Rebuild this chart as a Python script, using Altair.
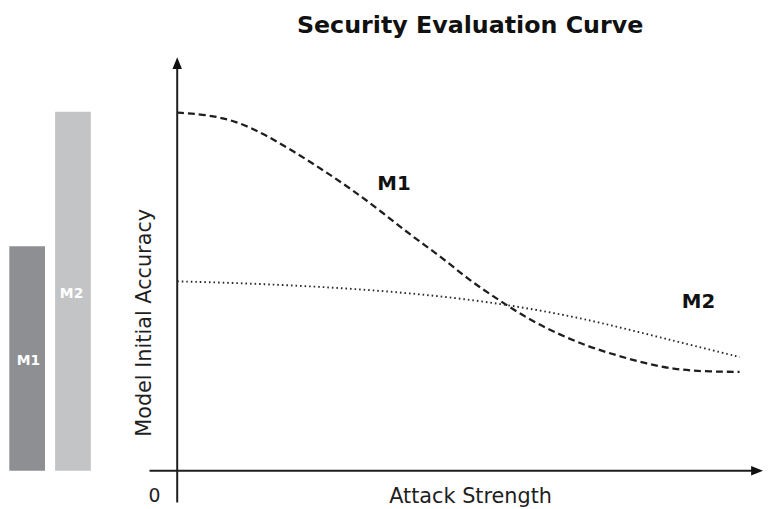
import altair as alt
import pandas as pd

# ---- data ----
attack_m1 = [0, 0.5, 1.0, 1.5, 2.0, 2.5, 3.0, 3.5, 4.0, 4.5, 5.0, 5.5, 6.0, 6.5, 7.0, 7.5, 8.0, 8.5, 9.0, 9.6]
acc_m1 = [86.6, 86.1, 84.6, 81.3, 77.1, 72.6, 67.8, 62.5, 56.8, 51.8, 45.9, 41.2, 36.6, 33.1, 30.1, 27.9, 25.9, 24.5, 24.0, 23.9]

attack_m2 = [0, 1, 2, 3, 4, 5, 6, 7, 8, 9, 9.6]
acc_m2 = [45.8, 45.4, 44.8, 44.0, 42.9, 41.4, 39.3, 36.6, 33.1, 29.6, 27.5]

models = ["M1", "M2"]
initial_acc = [54.3, 86.8]
bar_colors = ["#8e8f93", "#c3c4c6"]

curve_names = ["M1", "M2"]
curve_label_x = [3.7, 8.9]
curve_label_y = [69.4, 40.9]

# ---- tables ----
bars_df = pd.DataFrame({"model": models, "acc": initial_acc})
m1_df = pd.DataFrame({"attack": attack_m1, "acc": acc_m1})
m2_df = pd.DataFrame({"attack": attack_m2, "acc": acc_m2})
lab_df = pd.DataFrame({"name": curve_names, "attack": curve_label_x, "acc": curve_label_y})
one = pd.DataFrame({"k": [0]})

FONT = "DejaVu Sans"
INK = "#1e1e1e"

yscale = alt.Scale(domain=[0, 100], nice=False, zero=True)
xscale = alt.Scale(domain=[0, 10], nice=False)
y_axis = alt.Axis(
    title="Model Initial Accuracy", labels=False, ticks=False, domain=False, grid=False,
    titleFont=FONT, titleFontSize=21, titleFontWeight="normal", titleColor=INK,
    titlePadding=23, titleY=268,
)
x_axis = alt.Axis(
    title="Attack Strength", labels=False, ticks=False, domain=False, grid=False,
    titleFont=FONT, titleFontSize=21, titleFontWeight="normal", titleColor=INK,
    titlePadding=15,
)

band = alt.Scale(domain=models, range=[-172, -85], paddingInner=0.22, paddingOuter=0.05)

bars = alt.Chart(bars_df).mark_bar().encode(
    x=alt.X("model:N", scale=band, axis=None),
    y=alt.Y("acc:Q", scale=yscale, axis=y_axis),
    color=alt.Color("model:N", scale=alt.Scale(domain=models, range=bar_colors), legend=None),
)

bar_text = alt.Chart(bars_df).transform_calculate(half="datum.acc / 2").mark_text(
    font=FONT, fontSize=14, fontWeight="bold", color="white", dy=3
).encode(
    x=alt.X("model:N", scale=band, axis=None),
    y=alt.Y("half:Q", scale=yscale, axis=y_axis),
    text="model:N",
)

line_m1 = alt.Chart(m1_df).mark_line(
    color=INK, strokeWidth=2.3, strokeDash=[7, 4], interpolate="basis"
).encode(
    x=alt.X("attack:Q", scale=xscale, axis=x_axis),
    y=alt.Y("acc:Q", scale=yscale, axis=y_axis),
)

line_m2 = alt.Chart(m2_df).mark_line(
    color="#2a2a2a", strokeWidth=1.9, strokeDash=[1.6, 3], interpolate="basis"
).encode(
    x=alt.X("attack:Q", scale=xscale, axis=None),
    y=alt.Y("acc:Q", scale=yscale, axis=y_axis),
)

curve_text = alt.Chart(lab_df).mark_text(
    font=FONT, fontSize=20, fontWeight="bold", color="#111111"
).encode(
    x=alt.X("attack:Q", scale=xscale, axis=None),
    y=alt.Y("acc:Q", scale=yscale, axis=y_axis),
    text="name:N",
)

y_rule = alt.Chart(one).mark_rule(color=INK, strokeWidth=2).encode(
    x=alt.value(0), y=alt.value(10), y2=alt.value(450)
)
x_rule = alt.Chart(one).mark_rule(color=INK, strokeWidth=2).encode(
    x=alt.value(-28), x2=alt.value(582), y=alt.value(418)
)
up_arrow = alt.Chart(one).mark_point(
    shape="M0,-1L0.8,1L-0.8,1Z", size=144, filled=True, opacity=1, color="#111111"
).encode(x=alt.value(0), y=alt.value(6))
right_arrow = alt.Chart(one).mark_point(
    shape="M1,0L-1,-0.8L-1,0.8Z", size=144, filled=True, opacity=1, color="#111111"
).encode(x=alt.value(586), y=alt.value(418))
zero_text = alt.Chart(one).mark_text(
    text="0", font=FONT, fontSize=19, color=INK, baseline="middle"
).encode(x=alt.value(-23), y=alt.value(444))

chart = alt.layer(
    bars, bar_text, line_m1, line_m2, curve_text,
    y_rule, x_rule, up_arrow, right_arrow, zero_text,
).resolve_scale(x="independent").properties(
    width=592,
    height=418,
    autosize=alt.AutoSizeParams(type="none"),
    padding={"left": 171, "top": 47, "right": 0, "bottom": 36},
    title=alt.Title(
        "Security Evaluation Curve", font=FONT, fontSize=24, fontWeight="bold",
        color="#111111", anchor="middle", frame="group", offset=19,
    ),
).configure(font=FONT, background="white").configure_view(stroke=None)

chart.save("out.html", embed_options={"renderer": "svg", "actions": False})
